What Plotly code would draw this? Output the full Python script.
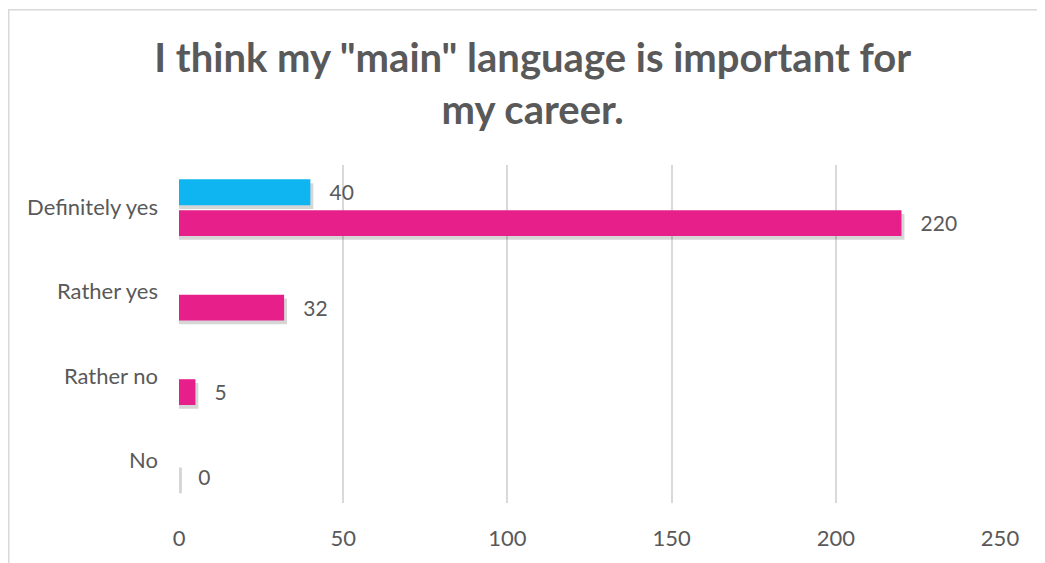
import plotly.graph_objects as go

categories = ["Definitely yes", "Rather yes", "Rather no", "No"]
series_blue = [40, None, None, None]
series_pink = [220, 32, 5, 0]
x_tick_values = [0, 50, 100, 150, 200, 250]
title_text = 'I think my "main" language is important for<br>my career.'

BAR_W = 0.305
BLUE_OFF = -0.33
PINK_OFF = 0.035
SH_DY = 0.045
SH_DX = 0.9
LABEL_FONT = dict(family="Lato", size=22, color="#595959")


def shadow(vals, off):
    return go.Bar(
        y=categories,
        x=[None if v is None else v + SH_DX for v in vals],
        orientation="h",
        width=BAR_W,
        offset=off + SH_DY,
        marker=dict(color="rgba(0,0,0,0.16)", line_width=0),
        hoverinfo="skip",
        showlegend=False,
    )


def bars(vals, off, color, name):
    return go.Bar(
        y=categories,
        x=vals,
        name=name,
        orientation="h",
        width=BAR_W,
        offset=off,
        marker=dict(color=color, line_width=0),
        texttemplate="\u00a0\u00a0\u00a0%{x}",
        textposition="outside",
        textfont=LABEL_FONT,
        cliponaxis=False,
        showlegend=False,
    )


fig = go.Figure()
fig.add_trace(shadow(series_blue, BLUE_OFF))
fig.add_trace(shadow(series_pink, PINK_OFF))
fig.add_trace(bars(series_blue, BLUE_OFF, "#0FB5F0", "Series 2"))
fig.add_trace(bars(series_pink, PINK_OFF, "#E61F8B", "Series 1"))

fig.update_layout(
    width=1037,
    height=555,
    margin=dict(l=171, r=45, t=157, b=58),
    paper_bgcolor="white",
    plot_bgcolor="white",
    barmode="overlay",
    title=dict(
        text=title_text,
        font=dict(family="Lato", size=40, color="#595959", weight="bold"),
        x=0.506,
        xref="container",
        xanchor="center",
        y=0.884,
        yref="container",
        yanchor="top",
    ),
    xaxis=dict(
        range=[0, 250],
        tickvals=x_tick_values,
        showgrid=True,
        gridcolor="#D9D9D9",
        gridwidth=1.5,
        zeroline=False,
        showline=False,
        tickfont=LABEL_FONT,
        ticklabelstandoff=20,
        fixedrange=True,
    ),
    yaxis=dict(
        categoryorder="array",
        categoryarray=categories,
        autorange="reversed",
        showgrid=False,
        zeroline=False,
        showline=False,
        tickfont=LABEL_FONT,
        ticklabelstandoff=20,
        fixedrange=True,
    ),
    shapes=[
        dict(
            type="rect",
            xref="paper",
            yref="paper",
            x0=-0.2074,
            x1=1.2,
            y0=-0.4,
            y1=1.4596,
            line=dict(color="#D9D9D9", width=1.5),
            layer="below",
        )
    ],
)

fig.write_html("out.html")
